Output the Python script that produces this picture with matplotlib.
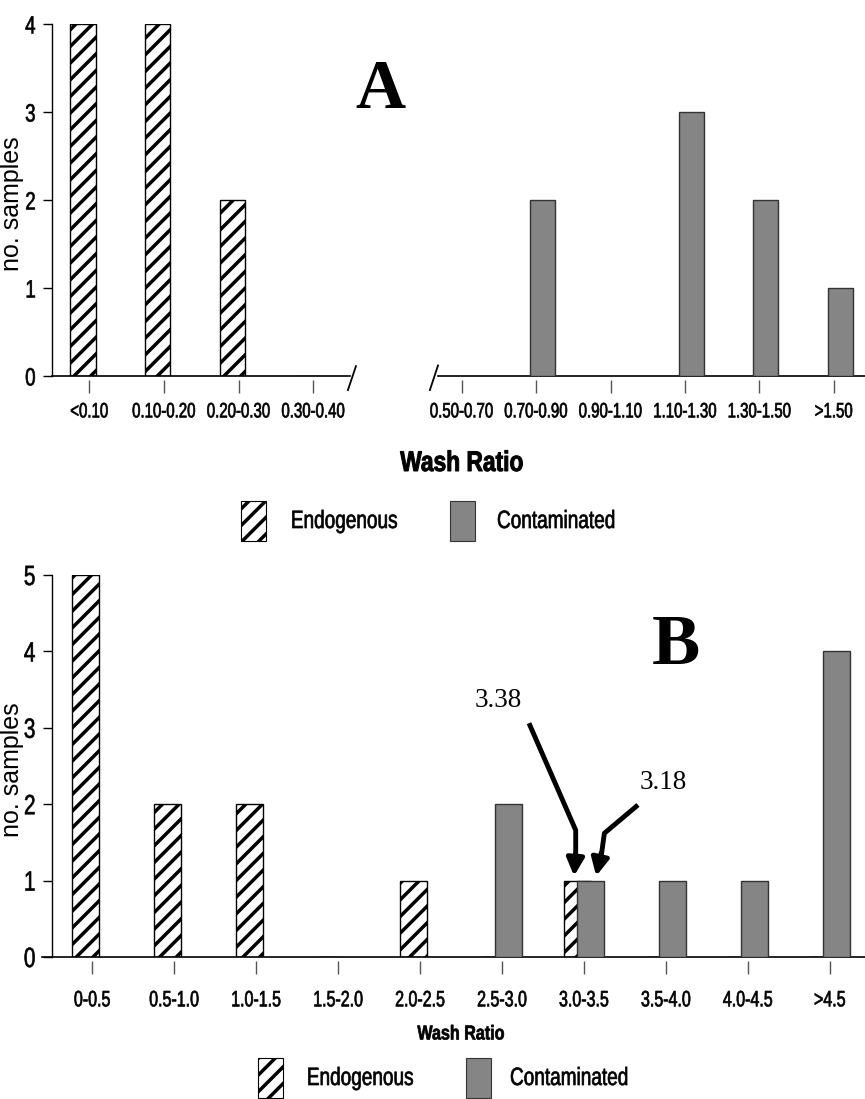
import matplotlib
matplotlib.use('agg')
import matplotlib.pyplot as plt
from matplotlib.patches import Rectangle
from matplotlib.patheffects import AbstractPathEffect
from matplotlib.transforms import Affine2D

# panel A data
a_left_labels = ['<0.10', '0.10-0.20', '0.20-0.30', '0.30-0.40']
a_left_endo = [4, 4, 2, 0]
a_right_labels = ['0.50-0.70', '0.70-0.90', '0.90-1.10', '1.10-1.30', '1.30-1.50', '>1.50']
a_right_cont = [0, 2, 0, 3, 2, 1]

# panel B data
b_labels = ['0-0.5', '0.5-1.0', '1.0-1.5', '1.5-2.0', '2.0-2.5',
            '2.5-3.0', '3.0-3.5', '3.5-4.0', '4.0-4.5', '>4.5']
b_endo = [5, 2, 2, 0, 1, 0, 1, 0, 0, 0]
b_cont = [0, 0, 0, 0, 0, 2, 1, 1, 1, 4]

W, H = 865, 1099
SANS = ['Liberation Sans', 'DejaVu Sans']
SERIF = ['Liberation Serif', 'DejaVu Serif']
GRAY = '#858585'

plt.rcParams['hatch.linewidth'] = 2.5
plt.rcParams['font.family'] = SANS


class Squeeze(AbstractPathEffect):
    # narrow (and slightly embolden) glyphs about their centre - no condensed font installed
    def __init__(self, sx=0.75, stroke=0.5):
        super().__init__()
        self.sx = sx
        self.stroke = stroke

    def draw_path(self, renderer, gc, tpath, affine, rgbFace=None):
        bb = tpath.get_extents(affine)
        cx = (bb.x0 + bb.x1) / 2
        aff = affine + Affine2D().translate(-cx, 0).scale(self.sx, 1).translate(cx, 0)
        gc0 = renderer.new_gc()
        gc0.copy_properties(gc)
        if rgbFace is not None and self.stroke > 0:
            gc0.set_foreground(rgbFace)
            gc0.set_linewidth(self.stroke)
        renderer.draw_path(gc0, tpath, aff, rgbFace)
        gc0.restore()


def fx(px):
    return px / W


def fy(py):
    return 1 - py / H


def endo_bars(ax, x, vals, w=0.335, off=0.085):
    ax.bar([i - off for i in x], vals, width=w, facecolor='white', edgecolor='black',
           hatch='//', linewidth=1.0, zorder=2)


def cont_bars(ax, x, vals, w=0.335, off=0.085):
    ax.bar([i + off for i in x], vals, width=w, facecolor=GRAY, edgecolor='#333333',
           linewidth=1.0, zorder=3)


def style(ax, labels, lsize, left=True, ysize=17, pad=7):
    for s in ['top', 'right']:
        ax.spines[s].set_visible(False)
    ax.spines['bottom'].set_position(('outward', 3))
    ax.spines['bottom'].set_visible(False)
    ax.set_xticks(range(len(labels)))
    ax.set_xticklabels(labels, fontsize=lsize)
    ax.tick_params(axis='x', length=9, width=1, color='#555555', pad=pad)
    for lab in ax.get_xticklabels():
        lab.set_path_effects([Squeeze(0.72, 0.5)])
    if left:
        ax.spines['left'].set_linewidth(1.0)
        ax.tick_params(axis='y', length=6.5, width=1, labelsize=ysize, pad=4)
        for lab in ax.get_yticklabels():
            lab.set_path_effects([Squeeze(0.75, 0.45)])
        ax.set_ylabel('no. samples', fontsize=18)
    else:
        ax.spines['left'].set_visible(False)
        ax.set_yticks([])


fig = plt.figure(figsize=(W / 100, H / 100), dpi=100)

# ---- panel A, left part
axL = fig.add_axes([fx(52), fy(376), (350 - 52) / W, (376 - 24) / H])
xl = list(range(len(a_left_labels)))
endo_bars(axL, xl, a_left_endo)
axL.set_xlim(-0.5, 3.49)
axL.set_ylim(0, 4)
axL.set_yticks([0, 1, 2, 3, 4])
style(axL, a_left_labels, 15, ysize=18)
axL.plot([0, 1], [0, 0], transform=axL.get_yaxis_transform(), color='black', lw=1.2, clip_on=False)
axL.plot([0.993, 1.02], [-0.04, 0.028], transform=axL.transAxes, color='black', lw=1.3, clip_on=False)
axL.yaxis.set_label_coords(-0.094, 0.49)

# ---- panel A, right part
axR = fig.add_axes([fx(438), fy(376), (865 - 438) / W, (376 - 24) / H])
xr = list(range(len(a_right_labels)))
cont_bars(axR, xr, a_right_cont)
axR.set_xlim(-0.32, 5.42)
axR.set_ylim(0, 4)
style(axR, a_right_labels, 15, left=False)
axR.plot([0, 1], [0, 0], transform=axR.get_yaxis_transform(), color='black', lw=1.2, clip_on=False)
axR.plot([-0.019, 0.0], [-0.04, 0.03], transform=axR.transAxes, color='black', lw=1.3, clip_on=False)

fig.text(fx(380), fy(91), 'A', family=SERIF, fontweight='bold', fontsize=50, ha='center', va='center')
fig.text(fx(462), fy(464), 'Wash Ratio', fontweight='bold', fontsize=20.5, ha='center', va='center',
         path_effects=[Squeeze(0.8, 0.7)])

# ---- panel B
axB = fig.add_axes([fx(52), fy(957), (865 - 52) / W, (957 - 575) / H])
xb = list(range(len(b_labels)))
endo_bars(axB, xb, b_endo, w=0.33, off=0.08)
cont_bars(axB, xb, b_cont, w=0.33, off=0.08)
axB.set_xlim(-0.49, 9.43)
axB.set_ylim(0, 5)
axB.set_yticks([0, 1, 2, 3, 4, 5])
style(axB, b_labels, 16, ysize=20, pad=12)
axB.plot([-10 / 813, 1], [0, 0], transform=axB.get_yaxis_transform(), color='black', lw=1.2, clip_on=False)
axB.yaxis.set_label_coords(-0.0345, 0.49)

# annotation arrows
arrow_kw = dict(color='black', lw=3.5, solid_capstyle='butt', solid_joinstyle='round')
head = dict(arrowstyle='-|>', color='black', lw=3.5, mutation_scale=26, shrinkA=0, shrinkB=0)
axB.plot([5.33, 5.90, 5.90], [3.06, 1.66, 1.31], **arrow_kw)
axB.annotate('', xy=(5.88, 1.06), xytext=(5.90, 1.36), arrowprops=head)
axB.plot([6.66, 6.25, 6.21], [1.99, 1.62, 1.31], **arrow_kw)
axB.annotate('', xy=(6.15, 1.06), xytext=(6.21, 1.36), arrowprops=head)
axB.text(4.96, 3.36, '3.38', family=SERIF, fontsize=19.5, ha='center', va='center')
axB.text(6.97, 2.28, '3.18', family=SERIF, fontsize=19.5, ha='center', va='center')

fig.text(fx(676), fy(646), 'B', family=SERIF, fontweight='bold', fontsize=52, ha='center', va='center')
fig.text(fx(461), fy(1034), 'Wash Ratio', fontweight='bold', fontsize=14.5, ha='center', va='center',
         path_effects=[Squeeze(0.8, 0.5)])


# legends
def legend(y, x_endo, x_cont, xt_endo, xt_cont):
    fig.patches.append(Rectangle((fx(x_endo), fy(y + 20)), 25 / W, 40 / H, transform=fig.transFigure,
                                 facecolor='white', edgecolor='black', hatch='//', linewidth=0.8))
    fig.patches.append(Rectangle((fx(x_cont), fy(y + 20)), 25 / W, 40 / H, transform=fig.transFigure,
                                 facecolor=GRAY, edgecolor='#333333', linewidth=0.8))
    fig.text(fx(xt_endo), fy(y), 'Endogenous', fontsize=18, ha='center', va='center',
             path_effects=[Squeeze(0.76, 0.5)])
    fig.text(fx(xt_cont), fy(y), 'Contaminated', fontsize=18, ha='center', va='center',
             path_effects=[Squeeze(0.76, 0.5)])


legend(521, 241, 450, 344, 556)
legend(1078, 258, 466, 360, 569)

fig.savefig('out.png', dpi=100)
